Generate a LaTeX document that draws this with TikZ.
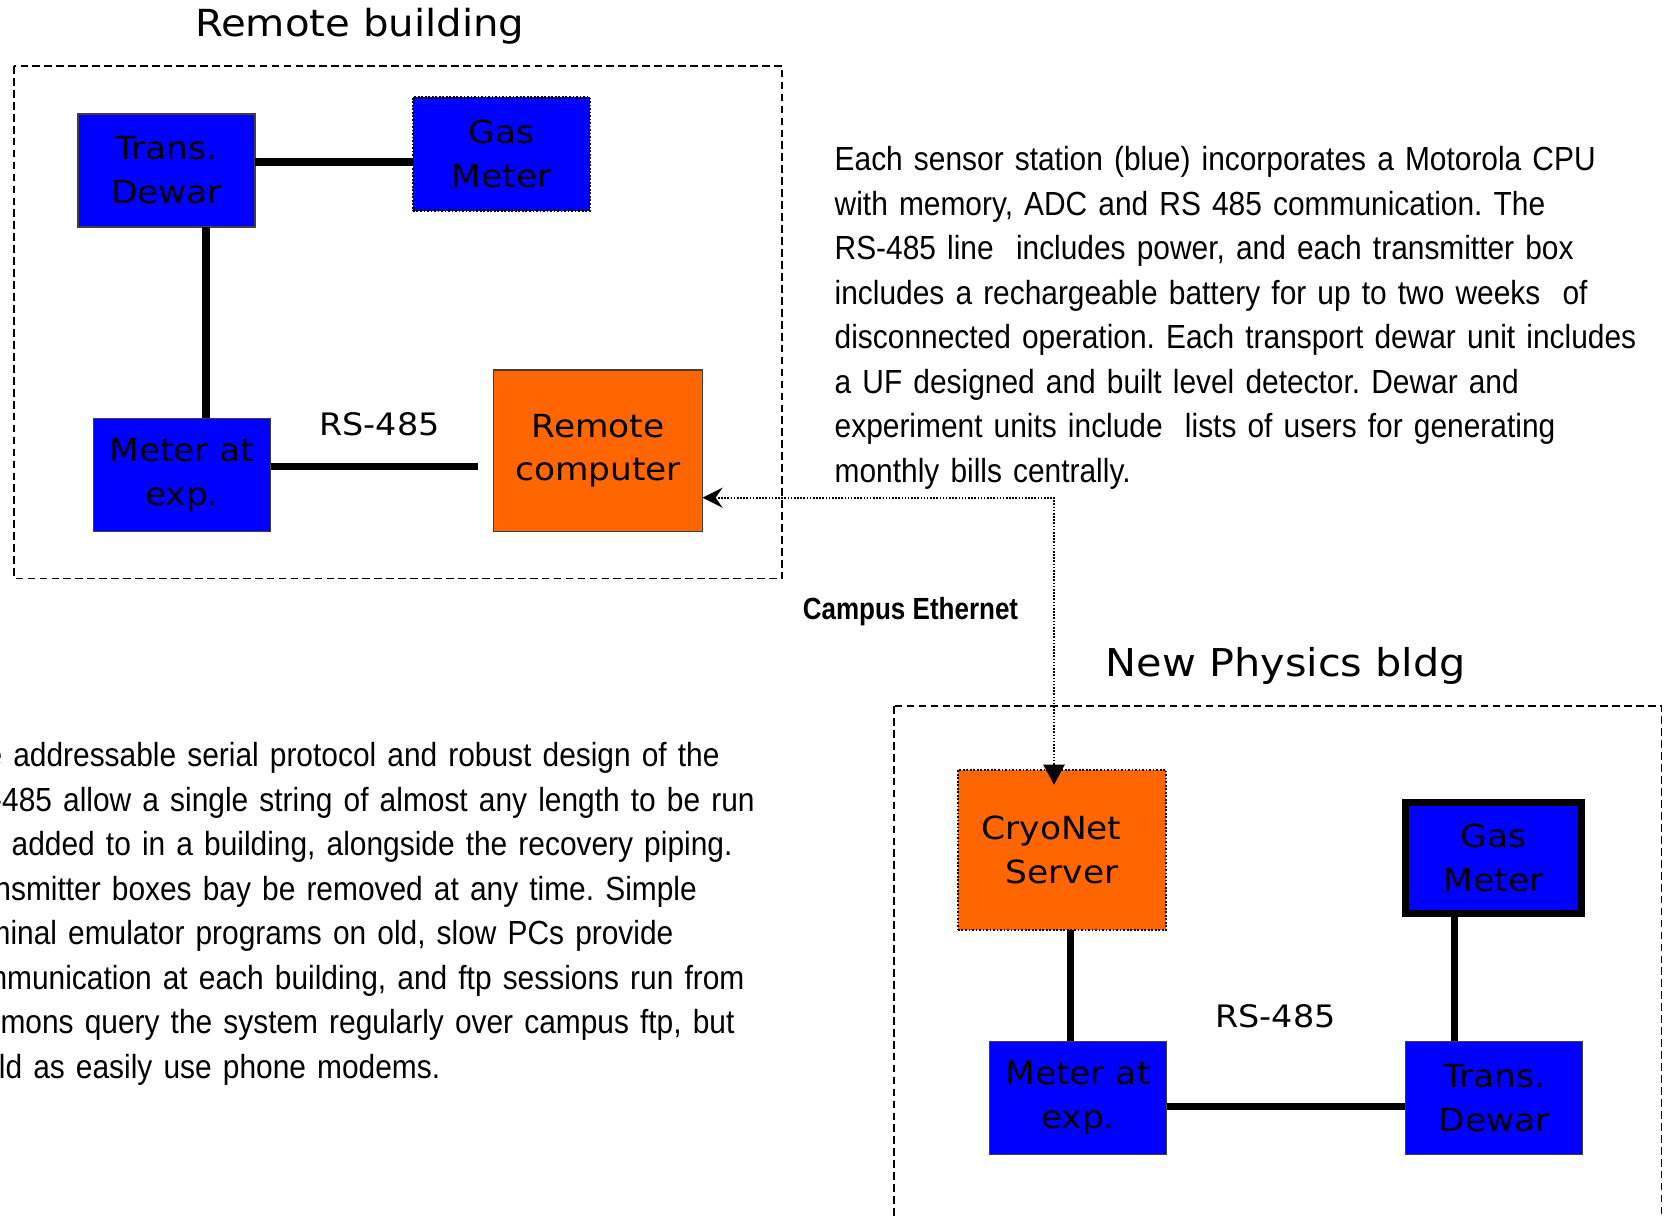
\documentclass[tikz,border=0pt]{standalone}
\usepackage{fontspec}
\usetikzlibrary{arrows.meta}
\newfontfamily\boxfont[FakeStretch=1.08]{DejaVu Sans}
\newfontfamily\notefont[FakeStretch=0.895, WordSpace=0.8]{Liberation Sans}
\newfontfamily\tagfont[FakeStretch=0.85]{Liberation Sans}
\definecolor{sensorblue}{HTML}{0000FF}
\definecolor{hostorange}{HTML}{FF6600}
\frenchspacing

\begin{document}
\begin{tikzpicture}[x=0.01cm, y=-0.01cm,
    unit/.style={draw=black!75, line width=0.4pt, minimum width=1.77cm, minimum height=1.13cm,
        inner sep=0pt, outer sep=0pt, align=center, font=\boxfont\fontsize{9.05}{12.5}\selectfont},
    sensor/.style={unit, fill=sensorblue},
    host/.style={unit, fill=hostorange, minimum width=2.09cm, minimum height=1.61cm},
    dotframe/.style={draw=black, line width=0.7pt, dash pattern=on 0.5pt off 0.5pt},
    wire/.style={line width=2pt},
    ether/.style={line width=0.6pt, dash pattern=on 0.45pt off 0.45pt},
    building/.style={line width=0.5pt, dash pattern=on 2.2pt off 1.2pt},
    bldgname/.style={anchor=base, font=\boxfont\fontsize{10.6}{12}\selectfont},
    busname/.style={anchor=base, font=\boxfont\fontsize{8.8}{10}\selectfont},
    note/.style={anchor=base west, align=left, text width=250pt, inner sep=0pt,
        font=\notefont\fontsize{9.5}{12.66}\selectfont}]
    \useasboundingbox (0,0) rectangle (1664,1215);
    \clip (0,0) rectangle (1664,1215);

    \draw[building] (14,66) rectangle (782,578.5);
    \draw[building] (894,706) rectangle (1661.5,1240);

    \node[bldgname] (remtitle) at (359.7,36.7) {Remote building};
    \node[bldgname, font=\boxfont\fontsize{10.9}{12}\selectfont] (newtitle) at (1286,676.5) {New Physics bldg};

    \node[sensor] (dewarA) at (166.5,170.5) {Trans.\\Dewar};
    \node[sensor, dotframe] (gasA) at (501.5,154) {Gas\\Meter};
    \node[sensor] (meterA) at (182,475) {Meter at\\exp.};
    \node[host] (remote) at (598,450.7) {Remote\\computer};

    \node[host, dotframe, minimum width=2.08cm, minimum height=1.6cm] (server) at (1062,850) {CryoNet\hspace*{6pt}\\Server};
    \node[sensor, draw=black, line width=2pt, minimum width=1.755cm, minimum height=1.11cm] (gasB) at (1493.75,858) {Gas\\Meter};
    \node[sensor] (meterB) at (1078,1098) {Meter at\\exp.};
    \node[sensor] (dewarB) at (1494,1098) {Trans.\\Dewar};

    \coordinate (busA) at (0,162);
    \coordinate (riseA) at (206,0);
    \coordinate (rsA) at (478,466.3);
    \coordinate (bend) at (1054,497.7);
    \coordinate (riseB) at (1070,0);
    \coordinate (riseC) at (1454,0);
    \coordinate (busB) at (0,1106);

    \draw[wire] (dewarA.east |- busA) -- (gasA.west |- busA);
    \draw[wire] (dewarA.south -| riseA) -- (meterA.north -| riseA);
    \draw[wire] (meterA.east |- rsA) -- (rsA);
    \draw[wire] (server.south -| riseB) -- (meterB.north -| riseB);
    \draw[wire] (gasB.south -| riseC) -- (dewarB.north -| riseC);
    \draw[wire] (meterB.east |- busB) -- (dewarB.west |- busB);

    \draw[ether, {Stealth[length=5.7pt, width=5.7pt, inset=2pt]}-{Triangle[length=5.7pt, width=6pt]}, shorten >=-4.2pt]
        (remote.east |- bend) -- (bend) -- (server.north -| bend);

    \node[busname] (rsnameA) at (379.4,435) {RS-485};
    \node[busname] (rsnameB) at (1275.5,1027) {RS-485};
    \node[anchor=base, font=\tagfont\bfseries\fontsize{8.7}{10}\selectfont] (ethname) at (910.5,619) {Campus Ethernet};

    \node[note] (noteA) at (834,170.7) {Each sensor station (blue) incorporates a Motorola CPU\\
        with memory, ADC and RS 485 communication. The\\
        RS-485 line\ \ includes power, and each transmitter box\\
        includes a rechargeable battery for up to two weeks\ \ of\\
        disconnected operation. Each transport dewar unit includes\\
        a UF designed and built level detector. Dewar and\\
        experiment units include\ \ lists of users for generating\\
        monthly bills centrally.};
    \node[note] (noteB) at (-50,766.7) {The addressable serial protocol and robust design of the\\
        RS-485 allow a single string of almost any length to be run\\
        and added to in a building, alongside the recovery piping.\\
        Transmitter boxes bay be removed at any time. Simple\\
        terminal emulator programs on old, slow PCs provide\\
        communication at each building, and ftp sessions run from\\
        daemons query the system regularly over campus ftp, but\\
        could as easily use phone modems.};
\end{tikzpicture}
\end{document}
